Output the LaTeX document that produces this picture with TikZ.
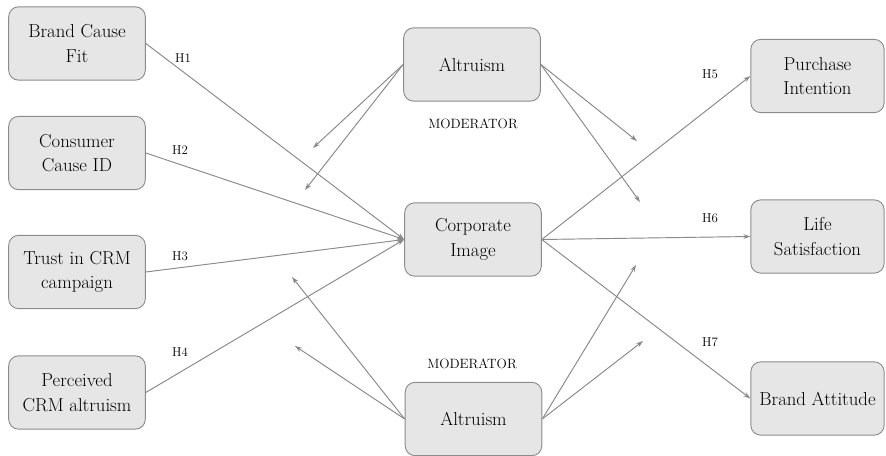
\documentclass[tikz,border=0pt]{standalone}
\usepackage{tikz}
\usetikzlibrary{arrows.meta,positioning}

\definecolor{boxfill}{HTML}{E6E6E6}
\definecolor{boxline}{HTML}{8C8C8C}
\definecolor{linegray}{HTML}{8A8A8A}

\begin{document}
\begin{tikzpicture}[x=0.03cm, y=-0.03cm,
            box/.style={rectangle, rounded corners=0.3cm, draw=boxline, fill=boxfill, line width=0.8pt, minimum width=4.1cm, minimum height=2.2cm, text centered, align=center, font=\fontsize{16}{21}\selectfont},
            rbox/.style={box, minimum width=4cm},
            arrow/.style={-{Stealth[length=6pt, width=4pt]}, draw=linegray, fill=linegray, line width=0.8pt},
            hyp/.style={font=\fontsize{11}{13}\selectfont},
            moderator/.style={font=\fontsize{11.5}{14}\selectfont}
        ]
            \useasboundingbox (0,0) rectangle (886,456);

            \node[box] (fit) at (77,43.5) {Brand Cause\\Fit};
            \node[box] (causeid) at (77,153) {Consumer\\Cause ID};
            \node[box] (trust) at (77,272) {Trust in CRM\\campaign};
            \node[box] (perceived) at (77,392.5) {Perceived\\CRM altruism};

            \node[box] (topalt) at (472,64.5) {Altruism};
            \node[box] (image) at (473,239.5) {Corporate\\Image};
            \node[box] (botalt) at (473.5,419) {Altruism};

            \node[rbox] (purchase) at (817.5,76) {Purchase\\Intention};
            \node[rbox] (life) at (817.5,236.5) {Life\\Satisfaction};
            \node[rbox] (attitude) at (817.5,398.5) {Brand Attitude};

            \node[moderator] (modtop) at (473,124) {MODERATOR};
            \node[moderator] (modbot) at (472,364) {MODERATOR};

            \node[hyp] (h1) at (183,58) {H1};
            \node[hyp] (h2) at (180,150) {H2};
            \node[hyp] (h3) at (180,256) {H3};
            \node[hyp] (h4) at (180,352) {H4};
            \node[hyp] (h5) at (710,74) {H5};
            \node[hyp] (h6) at (710,218) {H6};
            \node[hyp] (h7) at (710,342) {H7};

            % moderator arrow ends
            \coordinate (ta1) at (313,148);
            \coordinate (ta2) at (305,190);
            \coordinate (ta3) at (637,141);
            \coordinate (ta4) at (640,202);
            \coordinate (ba1) at (292,277);
            \coordinate (ba2) at (295,346);
            \coordinate (ba3) at (636,265);
            \coordinate (ba4) at (643,341);

            \draw[arrow] (fit.east) -- (image.west);
            \draw[arrow] (causeid.east) -- (image.west);
            \draw[arrow] (trust.east) -- (image.west);
            \draw[arrow] (perceived.east) -- (image.west);

            \draw[arrow] (image.east) -- (purchase.west);
            \draw[arrow] (image.east) -- (life.west);
            \draw[arrow] (image.east) -- (attitude.west);

            \draw[arrow] (topalt.west) -- (ta1);
            \draw[arrow] (topalt.west) -- (ta2);
            \draw[arrow] (topalt.east) -- (ta3);
            \draw[arrow] (topalt.east) -- (ta4);
            \draw[arrow] (botalt.west) -- (ba1);
            \draw[arrow] (botalt.west) -- (ba2);
            \draw[arrow] (botalt.east) -- (ba3);
            \draw[arrow] (botalt.east) -- (ba4);
        \end{tikzpicture}
\end{document}
